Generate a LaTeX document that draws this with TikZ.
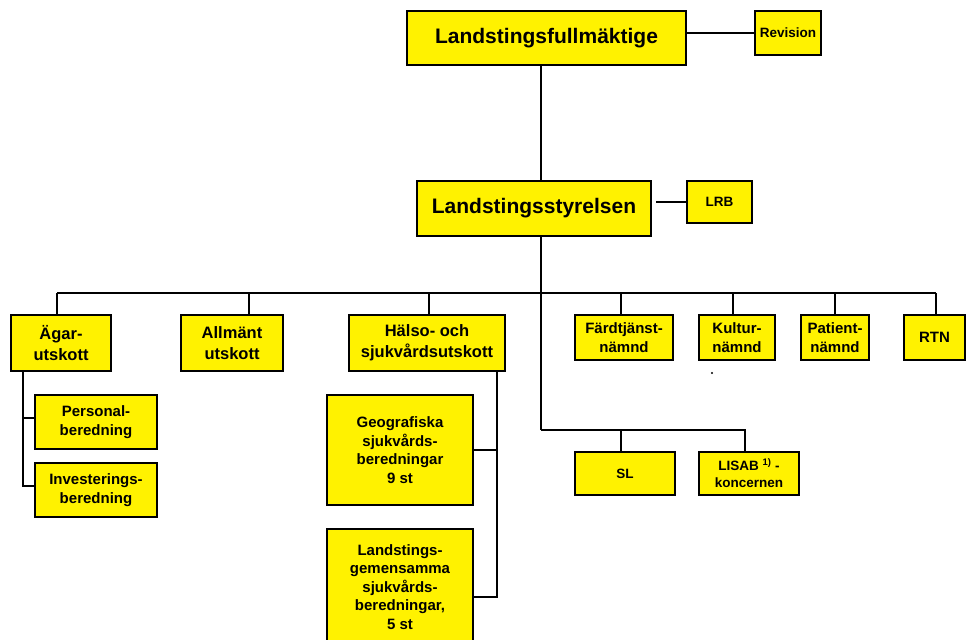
\documentclass[tikz,border=0pt]{standalone}
\usepackage{fontspec}
\setmainfont{Liberation Sans}
\usepackage{tikz}
\usetikzlibrary{calc}

\begin{document}
\begin{tikzpicture}[x=1pt, y=-1pt,
		orgbox/.style={draw, fill=yellow, line width=1.4pt, align=center, inner sep=0pt, font=\bfseries},
		bigtext/.style={font=\fontsize{21}{25}\selectfont\bfseries},
		midtext/.style={font=\fontsize{16.5}{21}\selectfont\bfseries},
		smalltext/.style={font=\fontsize{15}{18.5}\selectfont\bfseries},
		tinytext/.style={font=\fontsize{13.5}{17}\selectfont\bfseries},
		wire/.style={line width=1.6pt}]
		%%%%% START %%%%%
		
		\useasboundingbox (0, 0) rectangle (970, 640);
		
		\node[orgbox, bigtext, minimum width=279, minimum height=54] (fullm) at (546.5, 38) {Landstingsfullmäktige};
		\node[orgbox, tinytext, minimum width=66, minimum height=44] (revision) at (788, 33) {Revision};
		\draw[wire] (revision.west) -- (revision.west -| fullm.east);
		
		\node[orgbox, bigtext, minimum width=234, minimum height=55] (styrelsen) at (534, 208.5) {Landstingsstyrelsen};
		\node[orgbox, tinytext, minimum width=65, minimum height=42] (lrb) at (719.5, 202) {LRB};
		\draw[wire] (lrb.west) -- ([xshift=4pt]lrb.west -| styrelsen.east);
		
		\coordinate (bus) at (541, 293);
		\coordinate (slbus) at (541, 430);
		\draw[wire] (fullm.south -| bus) -- (styrelsen.north -| bus);
		\draw[wire] (styrelsen.south -| bus) -- (slbus);
		\draw[wire] (57, 293) -- (936, 293);
		
		% utskott och nämnder
		\node[orgbox, midtext, minimum width=100, minimum height=56] (agar) at (61, 343) {Ägar-\\utskott};
		\node[orgbox, midtext, minimum width=102, minimum height=56] (allmant) at (232, 343) {Allmänt\\utskott};
		\node[orgbox, midtext, minimum width=156, minimum height=56] (halso) at (427, 343) {Hälso- och\\sjukvårdsutskott};
		\node[orgbox, smalltext, minimum width=98, minimum height=45] (fardt) at (624, 337.5) {Färdtjänst-\\nämnd};
		\node[orgbox, smalltext, minimum width=76, minimum height=45] (kultur) at (737, 337.5) {Kultur-\\nämnd};
		\node[orgbox, smalltext, minimum width=68, minimum height=45] (patient) at (835, 337.5) {Patient-\\nämnd};
		\node[orgbox, smalltext, minimum width=61, minimum height=45] (rtn) at (934.5, 337.5) {RTN};
		\foreach \n/\dx in {agar/-4, allmant/17, halso/2, fardt/-3, kultur/-4, patient/0, rtn/1.5}
			\draw[wire] ([xshift=\dx pt]\n.north) -- ([xshift=\dx pt]\n.north |- bus);
		\fill (712, 373) circle (1.2);
		
		% beredningar
		\node[orgbox, smalltext, minimum width=122, minimum height=54] (personal) at (96, 422) {Personal-\\beredning};
		\node[orgbox, smalltext, minimum width=122, minimum height=54] (invest) at (96, 490) {Investerings-\\beredning};
		\draw[wire] ([xshift=-38pt]agar.south) |- ([yshift=4pt]invest.west);
		\draw[wire] ([xshift=-38pt]agar.south |- personal.west) ++(0, -4) -- ([yshift=4pt]personal.west);
		
		\node[orgbox, smalltext, minimum width=146, minimum height=110] (geo) at (400, 450) {Geografiska\\sjukvårds-\\beredningar\\9 st};
		\node[orgbox, smalltext, minimum width=146, minimum height=116] (gemensam) at (400, 587) {Landstings-\\gemensamma\\sjukvårds-\\beredningar,\\5 st};
		\draw[wire] ([xshift=70pt]halso.south) |- ([yshift=-10pt]gemensam.east);
		\draw[wire] ([xshift=70pt]halso.south |- geo.east) -- (geo.east);
		
		% bolag
		\node[orgbox, tinytext, minimum width=100, minimum height=43] (sl) at (625, 473.5) {SL};
		\node[orgbox, tinytext, minimum width=100, minimum height=43] (lisab) at (749, 473.5) {LISAB \textsuperscript{1)} -\\koncernen};
		\draw[wire] (slbus) -| ([xshift=-4pt]lisab.north);
		\draw[wire] ([xshift=-4pt]sl.north) -- ([xshift=-4pt]sl.north |- slbus);
		
		%%%%% END %%%%%
	\end{tikzpicture}
\end{document}
